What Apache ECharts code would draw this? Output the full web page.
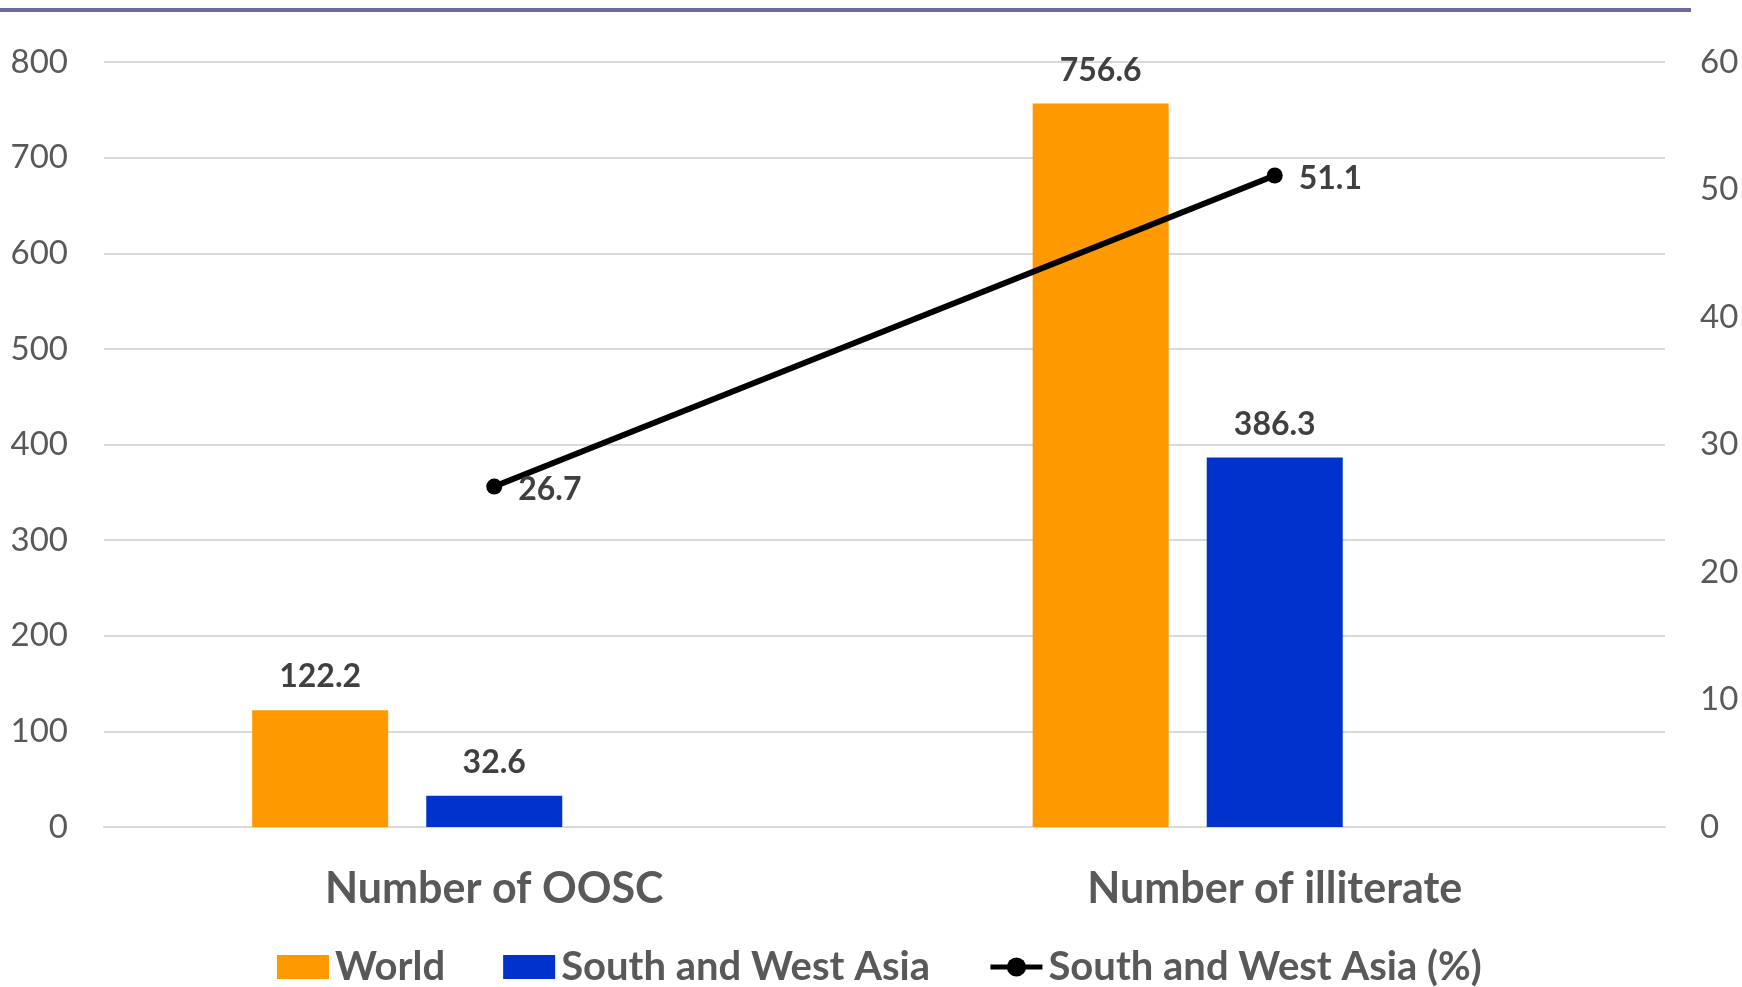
<!DOCTYPE html>
<html>
<head>
<meta charset="utf-8">
<title>OOSC and illiteracy</title>
<script src="https://cdn.jsdelivr.net/npm/echarts@6/dist/echarts.min.js"></script>
<style>
  html, body { margin: 0; padding: 0; background: #ffffff; }
  #chart { width: 1742px; height: 987px; }
</style>
</head>
<body>
<div id="chart"></div>
<script>
// Categories and values (millions / percent)
const categories = ['Number of OOSC', 'Number of illiterate'];
const worldValues = [122.2, 756.6];
const swaValues = [32.6, 386.3];
const swaShare = [26.7, 51.1];

const seriesNames = ['World', 'South and West Asia', 'South and West Asia (%)'];

const FONT = 'Lato, "Noto Sans", sans-serif';
const GRID_COLOR = '#d9d9d9';
const TEXT_GRAY = '#595959';
const LABEL_DARK = '#404040';

const chart = echarts.init(document.getElementById('chart'), null, { renderer: 'canvas' });

const barLabel = {
  show: true, position: 'top', distance: 17,
  fontFamily: FONT, fontSize: 32, fontWeight: 'bold', color: LABEL_DARK
};

chart.setOption({
  backgroundColor: '#ffffff',
  animation: false,
  textStyle: { fontFamily: FONT },
  graphic: [{
    type: 'rect',
    left: 0,
    top: 8,
    shape: { width: 1691, height: 4 },
    style: { fill: '#6b6b9f' }
  }],
  grid: { left: 104, right: 77, top: 62, bottom: 160 },
  legend: {
    data: [
      { name: seriesNames[0], icon: 'rect' },
      { name: seriesNames[1], icon: 'rect' },
      { name: seriesNames[2], lineStyle: { width: 5, color: '#000000' }, itemStyle: { color: '#000000' } }
    ],
    left: 272,
    top: 942,
    itemWidth: 52,
    itemHeight: 24,
    itemGap: 58,
    textStyle: { fontFamily: FONT, fontSize: 40, fontWeight: 'bold', color: TEXT_GRAY, padding: [0, 0, 0, 1] }
  },
  xAxis: {
    type: 'category',
    data: categories,
    axisLine: { show: true, lineStyle: { color: GRID_COLOR, width: 2 } },
    axisTick: { show: false },
    axisLabel: { fontFamily: FONT, fontSize: 43, fontWeight: 'bold', color: TEXT_GRAY, margin: 41 }
  },
  yAxis: [{
    type: 'value',
    min: 0, max: 800, interval: 100,
    axisLine: { show: false },
    axisTick: { show: false },
    splitLine: { lineStyle: { color: GRID_COLOR, width: 2 } },
    axisLabel: { fontFamily: FONT, fontSize: 33, color: TEXT_GRAY, margin: 36 }
  }, {
    type: 'value',
    min: 0, max: 60, interval: 10,
    axisLine: { show: false },
    axisTick: { show: false },
    splitLine: { show: false },
    axisLabel: { fontFamily: FONT, fontSize: 33, color: TEXT_GRAY, margin: 35 }
  }],
  series: [{
    name: seriesNames[0],
    type: 'bar',
    data: worldValues,
    barWidth: 136,
    barGap: '28%',
    itemStyle: { color: '#ff9900' },
    label: barLabel
  }, {
    name: seriesNames[1],
    type: 'bar',
    data: swaValues,
    barWidth: 136,
    barGap: '28%',
    itemStyle: { color: '#0033cc' },
    label: barLabel
  }, {
    // empty third column slot in each cluster
    name: 'slot',
    type: 'bar',
    data: [null, null],
    barWidth: 136,
    barGap: '28%',
    silent: true
  }, {
    name: seriesNames[2],
    type: 'line',
    yAxisIndex: 1,
    data: swaShare,
    symbol: 'circle',
    symbolSize: 16,
    lineStyle: { color: '#000000', width: 6 },
    itemStyle: { color: '#000000' },
    label: { show: true, position: 'right', distance: 16, offset: [0, 3], fontFamily: FONT, fontSize: 32, fontWeight: 'bold', color: LABEL_DARK }
  }]
});
</script>
</body>
</html>
